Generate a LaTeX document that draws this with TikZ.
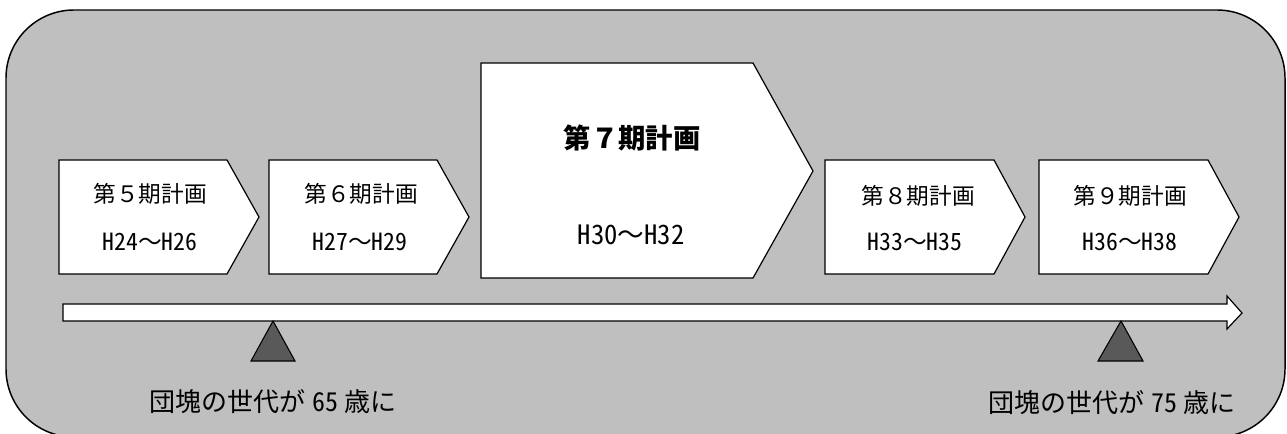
\documentclass[tikz,border=0pt]{standalone}
\usepackage{fontspec}
\newfontfamily\jpf{Noto Sans CJK JP}
\newfontfamily\jph[RawFeature=+hwid]{Noto Sans CJK JP}
\usetikzlibrary{shapes.arrows}
\definecolor{bggray}{RGB}{191,191,191}
\definecolor{tridark}{RGB}{89,89,89}
\newcommand{\hw}[1]{{\jph #1}}
\tikzset{
  px/.style={x=0.75pt,y=-0.75pt},
  panel/.style={draw=black,line width=1.1pt,fill=bggray,rounded corners=51pt},
  pent/.style={draw=black,line width=0.9pt,fill=white,line join=miter},
  smalltxt/.style={font=\jpf\fontsize{17}{20}\selectfont,inner sep=0pt,anchor=center},
  yeartxt/.style={font=\jpf\fontsize{17.8}{20}\selectfont,inner sep=0pt,anchor=center},
  bigtitle/.style={font=\jpf\bfseries\fontsize{20.5}{24}\selectfont,inner sep=0pt,anchor=center},
  bigyear/.style={font=\jpf\fontsize{20}{24}\selectfont,inner sep=0pt,anchor=center},
  lbl/.style={font=\jpf\fontsize{19.5}{22}\selectfont,inner sep=0pt,anchor=center},
  tri/.style={draw=black,line width=0.8pt,fill=tridark,line join=miter},
  timearrow/.style={draw=black,line width=0.9pt,fill=white,line join=miter}
}
\begin{document}
\begin{tikzpicture}[px]
\useasboundingbox (0,0) rectangle (1287,434);
\clip (0,0) rectangle (1287,434);
% background panel
\draw[panel] (6,10) rectangle (1285,437);
% pentagons
\draw[pent] (59,160) -- (227,160) -- (259,217) -- (227,274) -- (59,274) -- cycle;
\draw[pent] (269,160) -- (437,160) -- (469,217) -- (437,274) -- (269,274) -- cycle;
\draw[pent] (481,63) -- (753,63) -- (813,171) -- (753,278) -- (481,278) -- cycle;
\draw[pent] (825,160) -- (994,160) -- (1025,217) -- (994,274) -- (825,274) -- cycle;
\draw[pent] (1039,160) -- (1208,160) -- (1239,217) -- (1208,274) -- (1039,274) -- cycle;
% texts
\node[smalltxt] (p5a) at (150,194) {第５期計画};
\node[yeartxt] (p5b) at (150,242) {\hw{H24}～\hw{H26}};
\node[smalltxt] (p6a) at (361,194) {第６期計画};
\node[yeartxt] (p6b) at (360,242) {\hw{H27}～\hw{H29}};
\node[bigtitle] (p7a) at (632,138) {第７期計画};
\node[bigyear] (p7b) at (631,235) {\hw{H30}～\hw{H32}};
\node[smalltxt] (p8a) at (918,196) {第８期計画};
\node[yeartxt] (p8b) at (915,242) {\hw{H33}～\hw{H35}};
\node[smalltxt] (p9a) at (1130,196) {第９期計画};
\node[yeartxt] (p9b) at (1130,242) {\hw{H36}～\hw{H38}};
% time arrow
\draw[timearrow] (63,304) -- (1227,304) -- (1227,296) -- (1242,313) -- (1227,329) -- (1227,321) -- (63,321) -- cycle;
% triangles
\draw[tri] (273,321) -- (295,361) -- (251,361) -- cycle;
\draw[tri] (1121,321) -- (1143,361) -- (1098,361) -- cycle;
% labels
\node[lbl] (l65) at (273,402) {団塊の世代が\hspace{0.25em}\hw{65}\hspace{0.25em}歳に};
\node[lbl] (l75) at (1112,403) {団塊の世代が\hspace{0.25em}\hw{75}\hspace{0.25em}歳に};
\end{tikzpicture}
\end{document}
